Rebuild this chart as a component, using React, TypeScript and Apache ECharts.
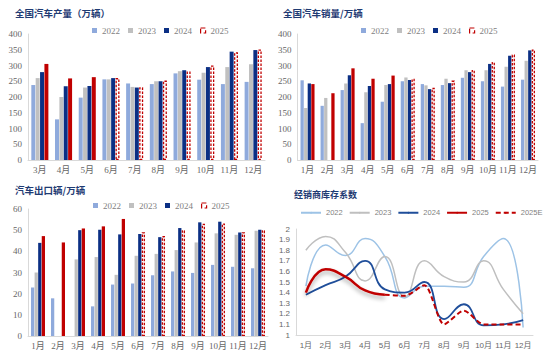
import React, { useEffect, useRef } from "react";
import * as echarts from "echarts";

// ---------- data ----------
const prodMonths = ["3月", "4月", "5月", "6月", "7月", "8月", "9月", "10月", "11月", "12月"];
const months12 = ["1月", "2月", "3月", "4月", "5月", "6月", "7月", "8月", "9月", "10月", "11月", "12月"];
const years = ["2022", "2023", "2024", "2025"];

const prod2022 = [238, 129, 198, 256, 243, 241, 275, 255, 241, 248];
const prod2023 = [260, 200, 230, 256, 232, 250, 282, 277, 295, 304];
const prod2024 = [279, 234, 235, 260, 230, 250, 285, 295, 344, 349];
const prod2025 = [305, 259, 263, 260, 231, 252, 281, 300, 342, 351];
const prodForecastFrom = 3;

const sales2022 = [253, 172, 222, 117, 185, 250, 241, 238, 261, 250, 233, 255];
const sales2023 = [165, 197, 243, 215, 238, 262, 237, 258, 285, 285, 296, 315];
const sales2024 = [243, null, 269, 235, 241, 254, 225, 244, 279, 305, 331, 348];
const sales2025 = [241, 212, 291, 258, 268, 258, 229, 252, 286, 311, 335, 351];
const salesForecastFrom = 5;

const exp2022 = [22.9, 17.8, null, 14, 24.3, 24.8, 28.7, 30.5, 29.8, 33.6, 32.7, 32];
const exp2023 = [30, null, 36.2, 37.3, 28.9, 37.9, 38.8, 40.6, 44.2, 48.5, 47.8, 49.7];
const exp2024 = [44, null, 50, 50.2, 48, 48.2, 46.7, 51, 53.7, 54, 48.9, 50.2];
const exp2025 = [47.2, 44.2, 50.8, 51.8, 55.3, 49, 47.2, 50, 53, 53.2, 49, 50];
const expForecastFrom = 5;

const inv2022 = [1.46, 1.85, 1.75, 1.91, 1.74, 1.35, 1.46, 1.46, 1.45, 1.74, 1.91, 1.07];
const inv2023 = [1.8, 1.93, 1.78, 1.51, 1.74, 1.36, 1.7, 1.55, 1.5, 1.7, 1.43, 1.2];
const inv2024 = [1.38, 1.47, 1.55, 1.7, 1.43, 1.4, 1.5, 1.15, 1.29, 1.09, 1.1, 1.14];
const inv2025 = [1.4, 1.62, 1.55, 1.42, 1.38, null, null, null, null, null, null, null];
const inv2025E = [null, null, null, null, 1.38, 1.37, 1.47, 1.1, 1.23, 1.1, 1.1, 1.1];

// ---------- styles ----------
const barColors = ["#8FAADC", "#C0C0C0", "#0B2F84", "#C00000"];
const lineColors = { y2022: "#9DC3E6", y2023: "#BFBFBF", y2024: "#1F4E9A", y2025: "#C00000" };
const titleStyle = { fontSize: 9.5, fontWeight: "bold", color: "#1F3B73", fontFamily: "'Noto Sans CJK SC'" };
const serif = "'Liberation Serif', 'Noto Sans CJK SC'";
const sans = "'Liberation Sans', 'Noto Sans CJK SC'";
const axisGray = "#D9D9D9";
const labelGray = "#666";

const solidLineIcon = "path://M0,0h20v2h-20z";
const dashedLineIcon = "path://M0,0h5v2h-5z M7.5,0h5v2h-5z M15,0h5v2h-5z";

function barOption(
  title: string,
  cats: string[],
  data: (number | null)[][],
  max: number,
  interval: number,
  forecastFrom: number,
  grid: any,
  titlePos: any,
  legendPos: any,
  catGap: string
) {
  const dashed = {
    color: "#fff",
    borderColor: "#C00000",
    borderWidth: 1.3,
    borderType: [2.5, 1.5],
  };
  return {
    animation: false,
    title: { text: title, ...titlePos, textStyle: titleStyle },
    legend: {
      ...legendPos,
      itemWidth: 5,
      itemHeight: 5,
      itemGap: 8,
      icon: "rect",
      textStyle: { fontSize: 9, color: "#7F7F7F", fontFamily: serif },
      data: [
        { name: "2022" },
        { name: "2023" },
        { name: "2024" },
        { name: "2025", itemStyle: { color: "#fff", borderColor: "#C00000", borderWidth: 1.2, borderType: "dashed" } },
      ],
    },
    grid,
    xAxis: {
      type: "category",
      data: cats,
      axisLine: { lineStyle: { color: axisGray } },
      axisTick: { length: 4, lineStyle: { color: axisGray } },
      axisLabel: { fontSize: 9, color: labelGray, fontFamily: serif, margin: 5, interval: 0 },
    },
    yAxis: {
      type: "value",
      min: 0,
      max,
      interval,
      axisLine: { show: true, lineStyle: { color: axisGray } },
      axisTick: { show: false },
      splitLine: { show: false },
      axisLabel: { fontSize: 9, color: labelGray, fontFamily: serif, margin: 6 },
    },
    series: data.map((arr, i) => ({
      name: years[i],
      type: "bar",
      barGap: "10%",
      barCategoryGap: catGap,
      itemStyle: { color: barColors[i] },
      data:
        i === 3
          ? arr.map((v, j) => (j >= forecastFrom ? { value: v, itemStyle: dashed } : v))
          : arr,
    })),
  };
}

function lineOption() {
  const lineSeries = (name: string, data: (number | null)[], color: string, width: number, extra: any = {}) => ({
    name,
    type: "line",
    data,
    smooth: 0.5,
    symbol: "none",
    connectNulls: false,
    legendIcon: solidLineIcon,
    lineStyle: { color, width, ...(extra.lineStyle || {}) },
    itemStyle: { color },
    ...(extra.rest || {}),
  });
  return {
    animation: false,
    title: { text: "经销商库存系数", left: 14, top: 10, textStyle: { ...titleStyle, fontSize: 9 } },
    legend: {
      left: 20,
      top: 29,
      itemWidth: 20,
      itemHeight: 2,
      itemGap: 6,
      textStyle: { fontSize: 7.5, color: "#7F7F7F", fontFamily: sans },
      data: ["2022", "2023", "2024", "2025", "2025E"],
    },
    grid: { left: 21, right: 17, top: 54, bottom: 24 },
    xAxis: {
      type: "category",
      data: months12,
      axisLine: { lineStyle: { color: axisGray } },
      axisTick: { length: 4, lineStyle: { color: axisGray } },
      axisLabel: { fontSize: 8, color: labelGray, fontFamily: sans, margin: 6, interval: 0 },
    },
    yAxis: {
      type: "value",
      min: 1,
      max: 2,
      interval: 0.1,
      axisLine: { show: true, lineStyle: { color: axisGray } },
      axisTick: { show: false },
      splitLine: { show: false },
      axisLabel: { fontSize: 8, color: labelGray, fontFamily: sans, margin: 6 },
    },
    series: [
      lineSeries("2022", inv2022, lineColors.y2022, 1.5),
      lineSeries("2023", inv2023, lineColors.y2023, 1.5),
      lineSeries("2024", inv2024, lineColors.y2024, 1.8),
      lineSeries("2025", inv2025, lineColors.y2025, 2.5, {
        lineStyle: { shadowColor: "rgba(0,0,0,0.35)", shadowBlur: 4, shadowOffsetY: 3 },
      }),
      lineSeries("2025E", inv2025E, lineColors.y2025, 2, {
        lineStyle: { type: [5, 3] },
        rest: { smooth: 0.25, legendIcon: dashedLineIcon },
      }),
    ],
  };
}

function Panel({ option, left, top, width, height }: any) {
  const ref = useRef<HTMLDivElement>(null);
  useEffect(() => {
    const chart = echarts.init(ref.current!, undefined, { renderer: "svg" });
    chart.setOption(option);
    return () => chart.dispose();
  }, []);
  return <div ref={ref} style={{ position: "absolute", left, top, width, height }} />;
}

export default function App() {
  const p1 = barOption(
    "全国汽车产量（万辆）",
    prodMonths,
    [prod2022, prod2023, prod2024, prod2025],
    400,
    50,
    prodForecastFrom,
    { left: 28, right: 10, top: 34, bottom: 15 },
    { left: 10, top: 3 },
    { left: 87, top: 21 },
    "28%"
  );
  const p2 = barOption(
    "全国汽车销量/万辆",
    months12,
    [sales2022, sales2023, sales2024, sales2025],
    400,
    50,
    salesForecastFrom,
    { left: 21, right: 12, top: 34, bottom: 15 },
    { left: 3, top: 3 },
    { left: 81, top: 21 },
    "30%"
  );
  const p3 = barOption(
    "汽车出口辆/万辆",
    months12,
    [exp2022, exp2023, exp2024, exp2025],
    60,
    10,
    expForecastFrom,
    { left: 28, right: 7, top: 34, bottom: 23 },
    { left: 10, top: 5 },
    { left: 88, top: 21 },
    "30%"
  );
  const p4 = lineOption();
  return (
    <div style={{ position: "fixed", left: 0, top: 0, width: 550, height: 359, background: "#fff" }}>
      <Panel option={p1} left={0} top={0} width={275} height={175} />
      <Panel option={p2} left={275} top={0} width={275} height={175} />
      <Panel option={p3} left={0} top={175} width={275} height={184} />
      <Panel option={p4} left={275} top={175} width={275} height={184} />
    </div>
  );
}
